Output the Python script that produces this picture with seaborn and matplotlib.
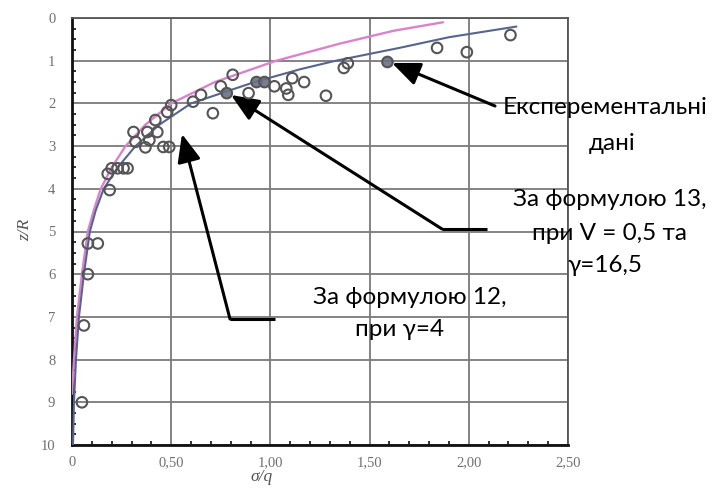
import numpy as np
import pandas as pd
import matplotlib
matplotlib.use('Agg')
import matplotlib.pyplot as plt
import seaborn as sns
from matplotlib.ticker import MultipleLocator

# ---------------- data ----------------
exp_x = [0.05, 0.06, 0.08, 0.08, 0.13, 0.19, 0.18, 0.20, 0.23, 0.26, 0.28,
         0.32, 0.37, 0.46, 0.49, 0.39, 0.31, 0.38, 0.43, 0.42, 0.48, 0.50,
         0.61, 0.65, 0.75, 0.81, 0.71, 0.78, 0.89, 0.93, 0.97, 1.02, 1.08,
         1.09, 1.11, 1.17, 1.28, 1.37, 1.39, 1.59, 1.84, 1.99, 2.21]
exp_y = [9.00, 7.20, 6.00, 5.28, 5.28, 4.03, 3.65, 3.52, 3.52, 3.52, 3.52,
         2.90, 3.03, 3.02, 3.02, 2.86, 2.67, 2.67, 2.67, 2.39, 2.20, 2.04,
         1.96, 1.80, 1.60, 1.33, 2.23, 1.76, 1.76, 1.50, 1.50, 1.60, 1.65,
         1.80, 1.41, 1.50, 1.82, 1.17, 1.06, 1.03, 0.70, 0.80, 0.40]
exp_filled = [False] * 27 + [True, False, True, True] + [False] * 8 + [True] + [False] * 3

pink_x = [0.00, 0.01, 0.025, 0.05, 0.08, 0.11, 0.145, 0.20, 0.27, 0.37, 0.50, 0.72, 1.03, 1.35, 1.62, 1.87]
pink_y = [8.80, 8.00, 7.00, 6.00, 5.00, 4.50, 4.00, 3.50, 3.00, 2.50, 2.00, 1.50, 1.00, 0.60, 0.30, 0.10]

blue_x = [0.005, 0.01, 0.02, 0.035, 0.06, 0.09, 0.12, 0.16, 0.23, 0.32, 0.44, 0.60, 0.92, 1.15, 1.33, 1.65, 1.90, 2.24]
blue_y = [10.0, 9.0, 8.0, 7.0, 6.0, 5.0, 4.5, 4.0, 3.5, 3.0, 2.5, 2.0, 1.5, 1.2, 1.0, 0.7, 0.45, 0.20]

x_ticks = [0, 0.5, 1.0, 1.5, 2.0, 2.5]
x_tick_labels = ['0', '0,50', '1,00', '1,50', '2,00', '2,50']
y_ticks = list(range(0, 11))
y_tick_labels = [str(v) for v in y_ticks]

# ---------------- figure ----------------
sns.set_style('white')
plt.rcParams['font.family'] = ['Lato', 'DejaVu Sans']

fig = plt.figure(figsize=(7.12, 4.88), dpi=100)
ax = fig.add_axes([72 / 712, 1 - 445 / 488, (568 - 72) / 712, (445 - 18) / 488])

sns.lineplot(x=pink_x, y=pink_y, sort=False, estimator=None, color='#d983cd', lw=1.7, ax=ax, zorder=3)
sns.lineplot(x=blue_x, y=blue_y, sort=False, estimator=None, color='#56658f', lw=1.5, ax=ax, zorder=3)

df = pd.DataFrame({'x': exp_x, 'y': exp_y})
sns.scatterplot(data=df, x='x', y='y', marker='o', s=58, color='#555555', linewidth=1.5, ax=ax, zorder=4)
coll = ax.collections[-1]
fcs = [(0.42, 0.44, 0.52, 0.9) if f else (1, 1, 1, 0) for f in exp_filled]
coll.set_facecolors(fcs)
coll.set_edgecolors('#555555')

ax.set_xlim(0, 2.5)
ax.set_ylim(10, 0)
ax.set_xticks(x_ticks)
ax.set_xticklabels(x_tick_labels)
ax.set_yticks(y_ticks)
ax.set_yticklabels(y_tick_labels)
ax.xaxis.set_minor_locator(MultipleLocator(0.1))
ax.yaxis.set_minor_locator(MultipleLocator(0.25))
ax.grid(True, which='major', color='#7a7a7a', lw=1.3)
ax.set_axisbelow(True)

for lab in ax.get_xticklabels() + ax.get_yticklabels():
    lab.set_fontfamily('Liberation Serif')
    lab.set_fontsize(10.5)
    lab.set_color('#707070')
ax.tick_params(which='major', length=0)
ax.tick_params(axis='x', which='major', pad=8)
ax.tick_params(axis='y', which='major', pad=12)
ax.tick_params(which='minor', direction='in', length=3, width=1.3, color='#222222',
               bottom=True, left=True, top=False, right=False)

for side in ['top', 'right']:
    ax.spines[side].set_color('#555555')
    ax.spines[side].set_linewidth(1.3)
for side in ['bottom', 'left']:
    ax.spines[side].set_color('#111111')
    ax.spines[side].set_linewidth(2.0)

ax.set_xlabel('σ/q', fontfamily='Liberation Serif', fontstyle='italic', fontsize=12.5, color='#555555')
ax.set_ylabel('z/R', fontfamily='Liberation Serif', fontstyle='italic', fontsize=12.5, color='#555555')
ax.xaxis.set_label_coords((262 - 72) / 496, -(469 - 445) / 427)
ax.yaxis.set_label_coords((33 - 72) / 496, 1 - (230 - 18) / 427)

# ---------------- annotations ----------------
def px(xp, yp):
    return ((xp - 72) / 198.4, (yp - 18) / 42.7)

arrow_kw = dict(arrowstyle='-|>,head_length=1.0,head_width=0.42', mutation_scale=17,
                color='black', lw=2.2, shrinkA=0, shrinkB=0)

# Experimental data
ax.annotate('', xy=px(392, 63), xytext=px(495, 106), arrowprops=arrow_kw, annotation_clip=False)
# Formula 13
a, b = px(487, 229), px(442, 229)
ax.plot([a[0], b[0]], [a[1], b[1]], color='black', lw=2.2, clip_on=False, solid_capstyle='butt')
ax.annotate('', xy=px(231, 95), xytext=b, arrowprops=arrow_kw, annotation_clip=False)
# Formula 12
a, b = px(275, 319), px(230, 319)
ax.plot([a[0], b[0]], [a[1], b[1]], color='black', lw=2.2, clip_on=False, solid_capstyle='butt')
ax.annotate('', xy=px(182, 134), xytext=b, arrowprops=arrow_kw, annotation_clip=False)

txt_kw = dict(ha='center', va='center', fontsize=17.5, color='black', clip_on=False)
for s, (xp, yp) in [('Експерементальні', (605, 108)), ('дані', (612, 143)),
                    ('За формулою 13,', (610, 200)), ('при V = 0,5 та', (610, 233)),
                    ('γ=16,5', (605, 266)),
                    ('За формулою 12,', (410, 298)), ('при γ=4', (400, 330))]:
    ax.text(*px(xp, yp), s, **txt_kw)

fig.savefig('out.png', dpi=100)
